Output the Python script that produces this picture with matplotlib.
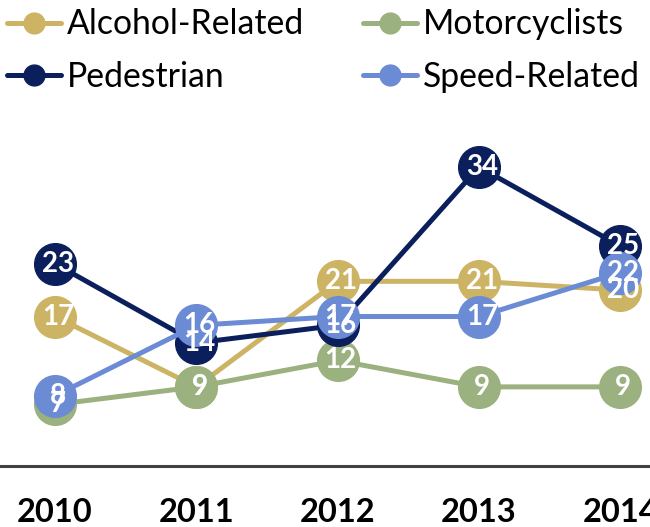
import matplotlib
matplotlib.use('Agg')
import matplotlib.pyplot as plt
from matplotlib.transforms import offset_copy

years = [2010, 2011, 2012, 2013, 2014]
alcohol = [17, 9, 21, 21, 20]
motorcyclists = [7, 9, 12, 9, 9]
pedestrian = [23, 14, 16, 34, 25]
speed = [8, 16, 17, 17, 22]

series = [
    ("Alcohol-Related", alcohol, "#CDB464"),
    ("Motorcyclists", motorcyclists, "#9BB17F"),
    ("Pedestrian", pedestrian, "#0B1F5C"),
    ("Speed-Related", speed, "#6B8BD4"),
]

plt.rcParams['font.family'] = ['Lato', 'DejaVu Sans']

fig = plt.figure(figsize=(6.5, 5.27), dpi=100)
ax = fig.add_axes([0, 0.1157, 1, 0.675])

handles = {}
for name, vals, color in series:
    line, = ax.plot(years, vals, color=color, lw=3.6, marker='o', markersize=30,
                    solid_capstyle='round', label=name, clip_on=False)
    handles[name] = line

# data labels on top of every marker, nudged a bit to the right like the original
lbl_tr = offset_copy(ax.transData, fig=fig, x=3, y=0, units='dots')
for name, vals, color in series:
    for x, v in zip(years, vals):
        ax.text(x, v, str(v), ha='center', va='center', color='white',
                fontsize=20, fontweight='bold', zorder=10, transform=lbl_tr)

ax.set_xlim(2009.61, 2014.21)
ax.set_ylim(0, 40.45)
ax.set_xticks(years)
ax.set_xticklabels([str(y) for y in years], fontsize=23.5, fontweight='bold')
ax.tick_params(axis='x', length=0, pad=23)
ax.set_yticks([])
for s in ['top', 'left', 'right']:
    ax.spines[s].set_visible(False)
ax.spines['bottom'].set_color('#404040')
ax.spines['bottom'].set_linewidth(2.2)

order = ["Alcohol-Related", "Pedestrian", "Motorcyclists", "Speed-Related"]
leg = fig.legend([handles[n] for n in order], order, ncol=2, loc='upper left',
                 bbox_to_anchor=(0.0, 0.997), frameon=False, fontsize=24.3,
                 markerscale=0.5, handlelength=1.6, handletextpad=0.18,
                 columnspacing=1.75, labelspacing=0.62, borderaxespad=0.0,
                 borderpad=0.2)

fig.savefig('out.png', dpi=100)
